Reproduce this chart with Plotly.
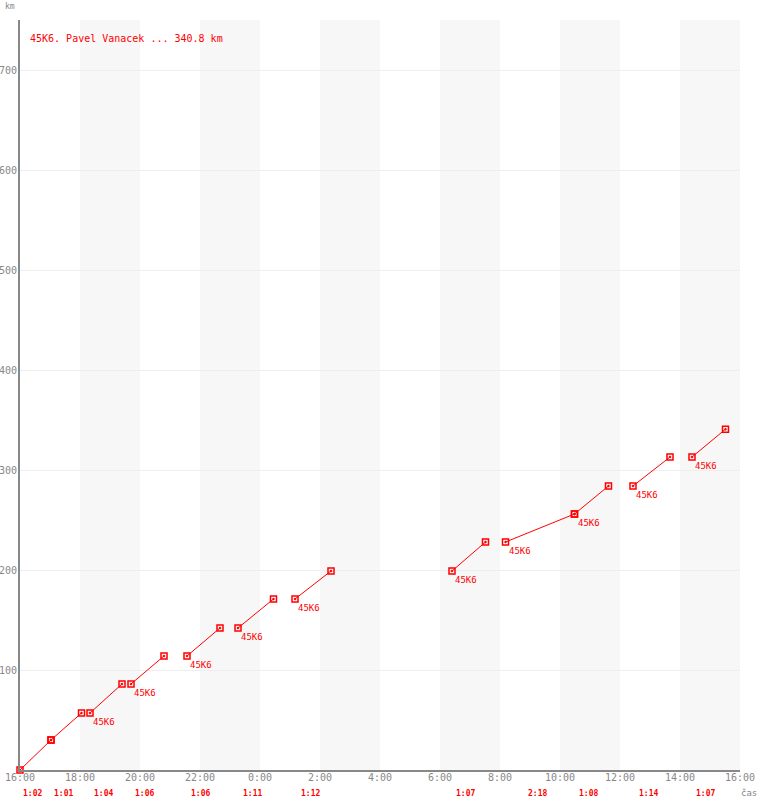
import plotly.graph_objects as go
from datetime import datetime, timedelta

# ---- data ----
leg_start = ["16:00", "17:02", "18:20", "19:42", "21:34", "23:16",
             "01:10", "06:24", "08:11", "10:29", "12:26", "14:24"]
leg_duration = ["1:02", "1:01", "1:04", "1:06", "1:06", "1:11",
                "1:12", "1:07", "2:18", "1:08", "1:14", "1:07"]
leg_km_start = [0, 30, 57, 86, 114, 142, 171, 199, 228, 256, 284, 313]
leg_km_end = [30, 57, 86, 114, 142, 171, 199, 228, 256, 284, 313, 340.8]
leg_labelled = [False, False, True, True, True, True,
                True, True, True, True, True, True]
glider = "45K6"
title_text = "45K6. Pavel Vanacek ... 340.8 km"
band_starts = ["18:00", "22:00", "02:00", "06:00", "10:00", "14:00"]
y_ticks = [100, 200, 300, 400, 500, 600, 700]

BASE = datetime(2020, 6, 1)


def to_dt(hhmm):
    h, m = map(int, hhmm.split(":"))
    d = BASE + timedelta(hours=h, minutes=m)
    if h < 16:
        d += timedelta(days=1)
    return d


def dur(s):
    h, m = map(int, s.split(":"))
    return timedelta(hours=h, minutes=m)


RED = "#ff0000"
GREY = "#888888"
FONT = "DejaVu Sans Mono"

xs, ys = [], []
prev_end = None
starts_x, starts_y = [], []
ends_x, ends_y = [], []
for s, d, k0, k1 in zip(leg_start, leg_duration, leg_km_start, leg_km_end):
    t0 = to_dt(s)
    t1 = t0 + dur(d)
    gap = prev_end is None or abs((t0 - prev_end).total_seconds()) > 120
    if prev_end is not None and gap:
        xs.append(None)
        ys.append(None)
    if gap:
        xs.append(t0)
        ys.append(k0)
    xs.append(t1)
    ys.append(k1)
    starts_x.append(t0); starts_y.append(k0)
    ends_x.append(t1); ends_y.append(k1)
    prev_end = t1

fig = go.Figure()
x0 = BASE + timedelta(hours=16)
x1 = x0 + timedelta(days=1)

for b in band_starts:
    bs = to_dt(b)
    fig.add_shape(type="rect", xref="x", yref="paper", x0=bs,
                  x1=bs + timedelta(hours=2), y0=0, y1=1,
                  fillcolor="#f7f7f7", line_width=0, layer="below")

fig.add_trace(go.Scatter(x=xs, y=ys, mode="lines",
                         line=dict(color=RED, width=1), hoverinfo="skip",
                         connectgaps=False, cliponaxis=False))
fig.add_trace(go.Scatter(x=starts_x + ends_x, y=starts_y + ends_y, mode="markers",
                         cliponaxis=False,
                         marker=dict(symbol="square-open-dot", size=6,
                                     color=RED, line=dict(width=1.5, color=RED))))

for s, d, k0, lab in zip(leg_start, leg_duration, leg_km_start, leg_labelled):
    t0 = to_dt(s)
    mid = t0 + dur(d) / 2
    fig.add_annotation(x=mid, y=0, yref="paper", text="<b>%s</b>" % d,
                       showarrow=False, yshift=-23, xshift=-3,
                       yanchor="middle", borderpad=0,
                       font=dict(family=FONT, size=8, color=RED))
    if lab:
        fig.add_annotation(x=t0, y=k0, text=glider, showarrow=False,
                           xanchor="left", yanchor="top", xshift=1, yshift=-2,
                           font=dict(family=FONT, size=9, color=RED))

fig.add_annotation(x=0, y=1, xref="paper", yref="paper", text=title_text,
                   showarrow=False, xanchor="left", yanchor="middle",
                   xshift=8, yshift=-18,
                   font=dict(family=FONT, size=10, color=RED))
fig.add_annotation(x=0, y=1, xref="paper", yref="paper", text="km",
                   showarrow=False, xanchor="center", yanchor="middle",
                   xshift=-10, yshift=14,
                   font=dict(family=FONT, size=8, color=GREY))
fig.add_annotation(x=1, y=0, xref="paper", yref="paper", text="čas",
                   showarrow=False, xanchor="center", yanchor="middle",
                   xshift=9, yshift=-23, borderpad=0,
                   font=dict(family=FONT, size=9, color=GREY))

fig.update_layout(
    width=760, height=800,
    margin=dict(l=20, r=20, t=20, b=30, autoexpand=False),
    plot_bgcolor="white", paper_bgcolor="white",
    showlegend=False,
    xaxis=dict(type="date", range=[x0, x1], dtick=2 * 3600 * 1000,
               tick0=x0, tickformat="%-H:%M", showgrid=False, automargin=False,
               showline=True, linecolor=GREY, linewidth=2, zeroline=False,
               ticklabelstandoff=-3,
               tickfont=dict(family=FONT, size=10, color=GREY), ticks=""),
    yaxis=dict(range=[0, 750], tickvals=y_ticks, showgrid=True, automargin=False,
               gridcolor="#eeeeee", gridwidth=1, showline=True,
               linecolor=GREY, linewidth=2, zeroline=False, ticks="",
               ticklabelstandoff=-1,
               tickfont=dict(family=FONT, size=10, color=GREY)),
)

fig.write_html("out.html", config={"displayModeBar": False},
               post_script="document.body.style.margin='0';")
